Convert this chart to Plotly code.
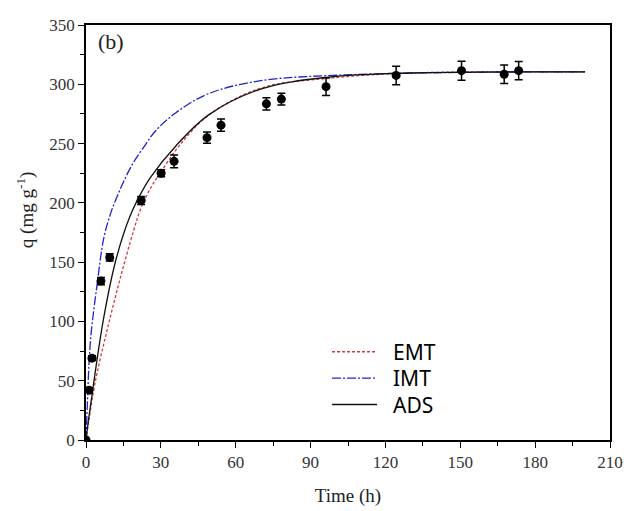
import plotly.graph_objects as go

# Experimental data
t_exp = [0, 1.2, 2.4, 6, 9.5, 22.1, 30.1, 35.3, 48.5, 54.1, 72.3, 78.3, 96.2, 124.3, 150.5, 167.6, 173.4]
q_exp = [0, 42, 69, 134, 154, 202, 225, 235, 255, 265.5, 283.5, 287.5, 298, 307.5, 311.5, 308.5, 311.5]
q_err = [0, 2, 2, 3, 3, 3.3, 3, 5.3, 4.7, 5.2, 5.2, 5, 7.5, 7.8, 8, 7.8, 7.7]

# Model curves
t_emt = [0, 1.2, 3.8, 8.5, 13.8, 19, 22.1, 26.3, 30, 37.3, 49.2, 70.4, 96.9, 130, 200]
q_emt = [0, 17, 50, 93, 137, 176, 196, 214, 226, 248, 274, 297, 305, 309.5, 310.5]

t_imt = [0, 0.5, 1.2, 2.1, 4.5, 7.1, 10, 13, 16, 19, 22.8, 28, 36, 49, 70, 105, 150, 200]
q_imt = [0, 28, 64, 91, 132, 170, 192, 208, 222, 234, 246, 261, 276, 292, 303, 308, 310, 310.5]

t_ads = [0, 1, 3, 7, 12, 17.5, 22, 26, 36, 49, 70, 97, 130, 200]
q_ads = [0, 17, 47, 102, 152, 188, 208, 222, 248, 274, 296, 306, 309.5, 310.5]

x_ticks = [0, 30, 60, 90, 120, 150, 180, 210]
y_ticks = [0, 50, 100, 150, 200, 250, 300, 350]

serif = "Liberation Serif, Times New Roman, serif"
legfont = dict(family="Noto Sans, Open Sans, sans-serif", size=21, color="#000")
NB = "\u00a0\u00a0"

fig = go.Figure()
fig.add_trace(go.Scatter(x=t_emt, y=q_emt, mode="lines", name=NB + "EMT", line_shape="spline",
                         line=dict(color="#d03a3a", width=1.3, dash="3px,2px"), legend="legend"))
fig.add_trace(go.Scatter(x=t_imt, y=q_imt, mode="lines", name=NB + "IMT", line_shape="spline",
                         line=dict(color="#2222cc", width=1.3, dash="9px,2px,2px,2px"), legend="legend2"))
fig.add_trace(go.Scatter(x=t_ads, y=q_ads, mode="lines", name=NB + "ADS", line_shape="spline",
                         line=dict(color="#111111", width=1.3), legend="legend3"))
fig.add_trace(go.Scatter(x=t_exp, y=q_exp, mode="markers", name="Exp", showlegend=False,
                         marker=dict(color="#000", size=9, symbol="circle"),
                         error_y=dict(type="data", array=q_err, visible=True, color="#000",
                                      thickness=1.5, width=4)))

axcommon = dict(showline=True, linecolor="#000", linewidth=1.5, mirror=True, showgrid=False,
                zeroline=False, ticks="outside", ticklen=6, tickwidth=1.2, tickcolor="#000",
                tickfont=dict(family=serif, size=17, color="#333"),
                minor=dict(ticks="outside", ticklen=4, tickwidth=1.2, tickcolor="#000"))

fig.update_xaxes(range=[0, 210], tickvals=x_ticks,
                 title=dict(text="Time (h)", font=dict(family=serif, size=19, color="#222"), standoff=18),
                 minor_dtick=15, **axcommon)
fig.update_yaxes(range=[0, 350], tickvals=y_ticks, minor_dtick=25, **axcommon)

legbase = dict(bgcolor="rgba(0,0,0,0)", borderwidth=0, font=legfont, itemwidth=45,
               xanchor="left", yanchor="middle", x=0.46)
fig.update_layout(
    width=623, height=503,
    margin=dict(l=78, r=16, t=8, b=70),
    paper_bgcolor="white", plot_bgcolor="white",
    legend=dict(y=(441 - 351) / 425, **legbase),
    legend2=dict(y=(441 - 378) / 425, **legbase),
    legend3=dict(y=(441 - 405) / 425, **legbase),
    annotations=[
        dict(text="(b)", x=0.02, y=0.96, xref="paper", yref="paper", showarrow=False,
             xanchor="left", yanchor="middle", font=dict(family=serif, size=22, color="#222")),
        dict(text="q (mg g<sup>-1</sup>)", x=(25 - 86) / 529, y=(441 - 205) / 425,
             xref="paper", yref="paper", showarrow=False, textangle=-90,
             xanchor="center", yanchor="middle", font=dict(family=serif, size=19, color="#222")),
    ],
)

fig.write_html("out.html")
